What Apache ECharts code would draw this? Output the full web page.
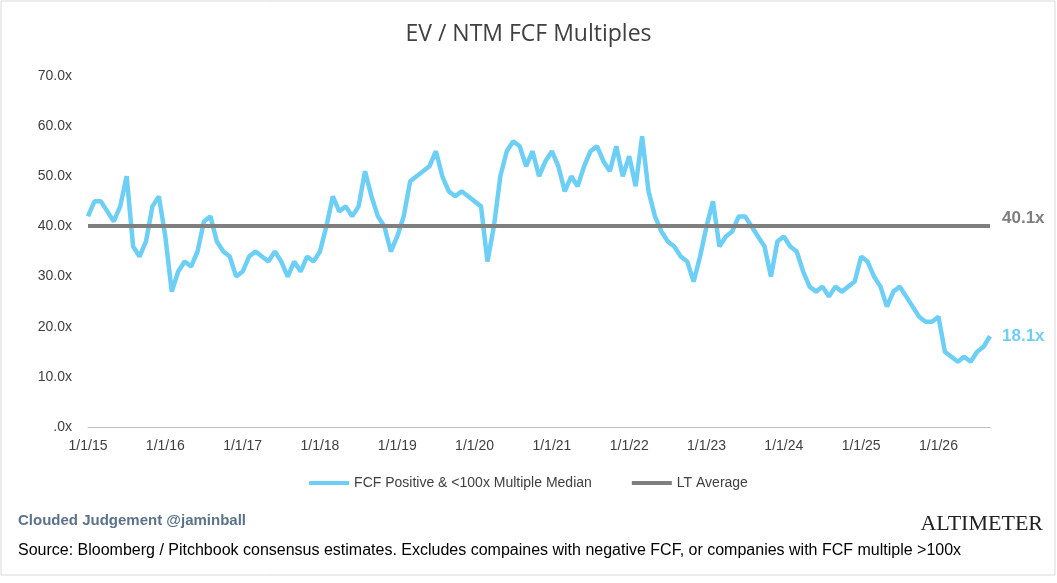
<!DOCTYPE html>
<html><head><meta charset="utf-8">
<script src="https://cdn.jsdelivr.net/npm/echarts@6/dist/echarts.min.js"></script>
<style>html,body{margin:0;padding:0;background:#fff}#c{width:1057px;height:583px}</style>
</head><body><div id="c"></div>
<script>
const startYear = 2015;
const values = [
42,45,45,43,41,44,50,36,34,37,44,46,
38,27,31,33,32,35,41,42,37,35,34,30,
31,34,35,34,33,35,33,30,33,31,34,33,
35,40,46,43,44,42,44,51,46,42,40,35,
38,42,49,50,51,52,55,50,47,46,47,46,
45,44,33,40,50,55,57,56,52,55,50,53,
55,52,47,50,48,52,55,56,53,51,56,50,
54,48,58,47,42,39,37,36,34,33,29,34,
40,45,36,38,39,42,42,40,38,36,30,37,
38,36,35,31,28,27,28,26,28,27,28,29,
34,33,30,28,24,27,28,26,24,22,21,21,
22,15,14,13,14,13,15,16,18.1];
const ltAverage = 40.1;
const categories = values.map((v,i)=>{const y=startYear+Math.floor(i/12), m=i%12+1; return m+'/1/'+String(y).slice(2);});
const chart = echarts.init(document.getElementById('c'));
chart.setOption({
  animation:false,
  title:{text:'EV / NTM FCF Multiples',left:'center',top:18,textStyle:{fontFamily:'Open Sans',fontSize:23,fontWeight:'normal',color:'#404040'}},
  grid:{left:88,right:67,top:76,bottom:156},
  xAxis:{type:'category',data:categories,boundaryGap:false,
    axisLine:{lineStyle:{color:'#bfbfbf'}},axisTick:{show:false},
    axisLabel:{interval:(i)=>i%12===0,color:'#404040',fontFamily:'Liberation Sans',fontSize:14,margin:12,
      formatter:v=>v.startsWith('1/1/')?v:''}},
  yAxis:{type:'value',min:0,max:70,interval:10,splitLine:{show:false},axisLine:{show:false},axisTick:{show:false},
    axisLabel:{color:'#404040',fontFamily:'Liberation Sans',fontSize:14,margin:16,formatter:v=>v===0?'.0x':v.toFixed(1)+'x'}},
  legend:{bottom:88,left:'center',itemWidth:40,itemGap:40,icon:'path://M0,0H40V4H0Z',
    textStyle:{color:'#404040',fontFamily:'Liberation Sans',fontSize:14},
    data:['FCF Positive & <100x Multiple Median','LT Average']},
  series:[
    {name:'FCF Positive & <100x Multiple Median',type:'line',data:values,showSymbol:false,symbol:'none',
      lineStyle:{color:'#6DCFF6',width:4.5},itemStyle:{color:'#6DCFF6'},
      endLabel:{show:true,formatter:p=>p.value.toFixed(1)+'x',color:'#6DCFF6',fontWeight:'bold',fontSize:17,fontFamily:'Liberation Sans',offset:[4,0]}},
    {name:'LT Average',type:'line',data:values.map(()=>ltAverage),showSymbol:false,symbol:'none',
      lineStyle:{color:'#7F7F7F',width:4},itemStyle:{color:'#7F7F7F'},
      endLabel:{show:true,formatter:p=>p.value.toFixed(1)+'x',color:'#7F7F7F',fontWeight:'bold',fontSize:17,fontFamily:'Liberation Sans',offset:[4,-8]}}
  ],
  graphic:[
    {type:'rect',shape:{x:1,y:1,width:1054,height:574},style:{fill:'none',stroke:'#d9d9d9'}},
    {type:'text',left:18,top:513,style:{text:'Clouded Judgement @jaminball',fill:'#5B7389',font:'bold 15px "Liberation Sans"'}},
    {type:'text',right:14,top:513,style:{text:'ALTIMETER',fill:'#222',font:'22px "Liberation Serif"'}},
    {type:'text',left:18,top:543,style:{text:'Source: Bloomberg / Pitchbook consensus estimates. Excludes compaines with negative FCF, or companies with FCF multiple >100x',fill:'#000',font:'16px "Liberation Sans"'}}
  ]
});
</script></body></html>
